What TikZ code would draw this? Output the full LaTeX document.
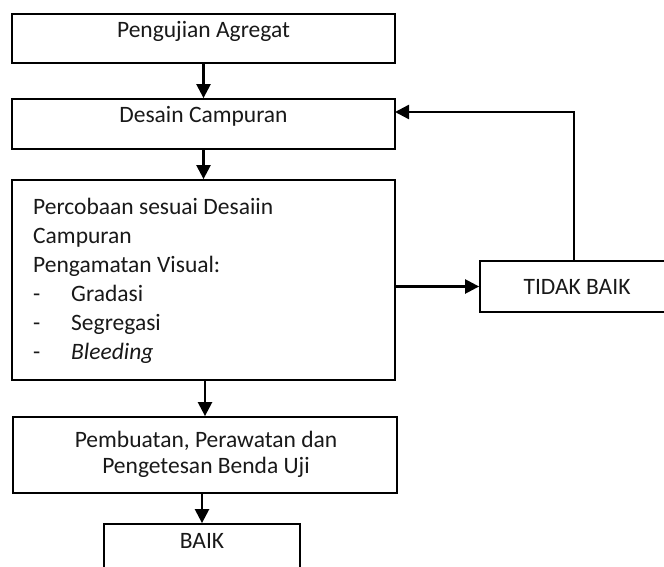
\documentclass[tikz,border=0pt]{standalone}
\usepackage{fontspec}
\setmainfont{Carlito}
\usetikzlibrary{arrows.meta,calc}
\begin{document}
\begin{tikzpicture}[x=1pt,y=-1pt,
  box/.style={draw=black,line width=1.8pt,rectangle,inner sep=0pt,fill=none},
  txt/.style={inner sep=0pt,font=\fontsize{23.5}{28}\selectfont,text=black!90},
  arr/.style={line width=2.4pt,-{Triangle[length=14pt,width=14pt]}},
  plain/.style={line width=2.2pt}]
\useasboundingbox (0,0) rectangle (664,567);
\clip (0,0) rectangle (664,567);
\fill[white] (0,0) rectangle (664,567);
% boxes
\node[box,minimum width=383pt,minimum height=49pt] (b1) at (203.5,38.5) {};
\node[box,minimum width=383pt,minimum height=50pt] (b2) at (203.5,124) {};
\node[box,minimum width=383pt,minimum height=200pt] (b3) at (203.5,280) {};
\node[box,minimum width=194pt,minimum height=51pt] (tb) at (577,286.5) {};
\node[box,minimum width=384pt,minimum height=76pt] (b4) at (205,455) {};
\node[box,minimum width=196pt,minimum height=80pt] (b5) at (202,564) {};
% texts
\node[txt,anchor=base] (t1) at (203.5,38) {Pengujian Agregat};
\node[txt,anchor=base] (t2) at (203.5,123) {Desain Campuran};
\node[txt,anchor=base west] (t3a) at (33,214) {Percobaan sesuai Desaiin};
\node[txt,anchor=base west] (t3b) at (33,243) {Campuran};
\node[txt,anchor=base west] (t3c) at (33,272) {Pengamatan Visual:};
\node[txt,anchor=base west] (d1) at (33,301) {-};
\node[txt,anchor=base west] (t3d) at (71,301) {Gradasi};
\node[txt,anchor=base west] (d2) at (33,330) {-};
\node[txt,anchor=base west] (t3e) at (71,330) {Segregasi};
\node[txt,anchor=base west] (d3) at (33,359) {-};
\node[txt,anchor=base west] (t3f) at (71,359) {\itshape Bleeding};
\node[txt,anchor=base] (ttb) at (577,294) {TIDAK BAIK};
\node[txt,anchor=base] (t4a) at (206,447) {Pembuatan, Perawatan dan};
\node[txt,anchor=base] (t4b) at (206,473) {Pengetesan Benda Uji};
\node[txt,anchor=base] (t5) at (202,548) {BAIK};
% connectors
\draw[arr] (b1.south) -- (b2.north);
\draw[arr] (b2.south) -- (b3.north);
\draw[arr] (b4.north |- b3.south) -- (b4.north);
\draw[arr] (b4.south -| b5.north) -- (b5.north);
\draw[arr] (b3.east |- tb.west) -- (tb.west);
\coordinate (fb) at (395,112);
\draw[arr] (tb.north -| 574,0) |- (fb);
\end{tikzpicture}
\end{document}
